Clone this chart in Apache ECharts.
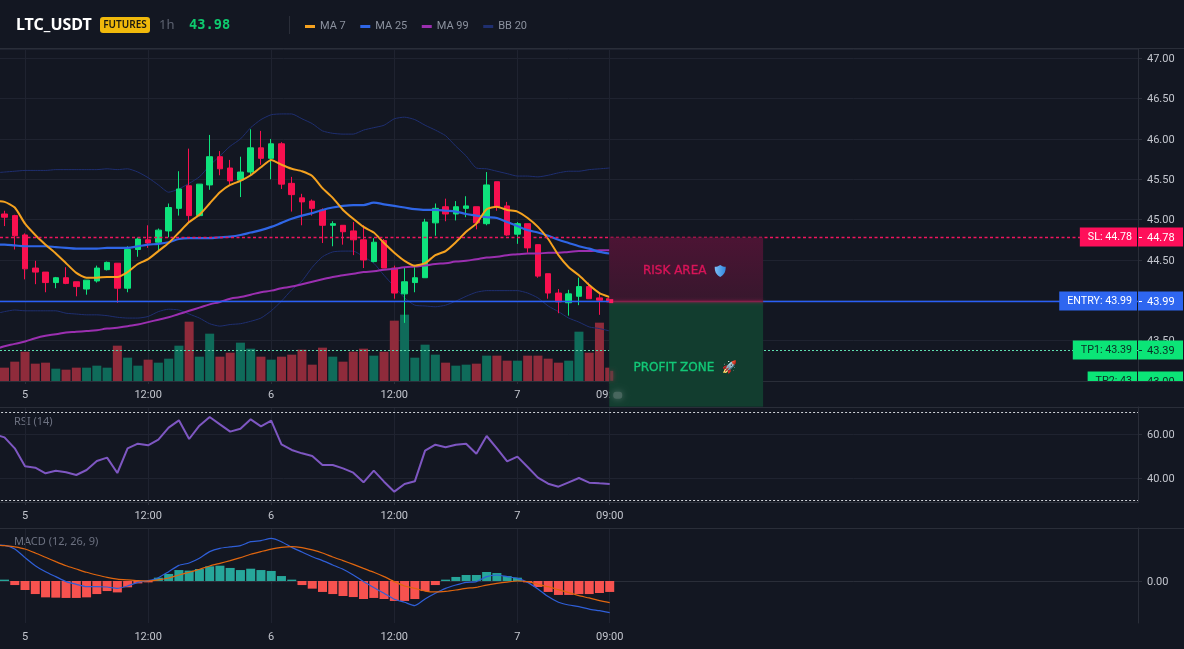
<!DOCTYPE html>
<html>
<head>
<meta charset="utf-8">
<style>
html,body{margin:0;padding:0;background:#131722;}
#chart{width:1184px;height:649px;}
</style>
<script src="https://cdn.jsdelivr.net/npm/echarts@6/dist/echarts.min.js"></script>
</head>
<body>
<div id="chart"></div>
<script>
// Hourly LTC/USDT candles, oldest first.
const opens = [45.12,45.07,45.05,44.81,44.40,44.35,44.22,44.28,44.23,44.14,44.24,44.38,44.46,44.15,44.63,44.75,44.72,44.86,45.14,45.42,45.05,45.43,45.78,45.64,45.49,45.59,45.89,45.76,45.94,45.45,45.27,45.23,45.12,44.93,44.93,44.86,44.75,44.48,44.74,44.40,44.08,44.22,44.28,44.96,45.16,45.07,45.14,45.16,44.95,45.47,45.17,44.82,44.95,44.69,44.33,44.09,43.97,44.05,44.17,44.03,44.02];
const closes = [45.08,45.03,44.80,44.39,44.35,44.22,44.28,44.21,44.17,44.25,44.40,44.47,44.15,44.63,44.76,44.71,44.87,45.15,45.38,45.05,45.44,45.78,45.63,45.48,45.59,45.89,45.76,45.94,45.44,45.31,45.22,45.14,44.93,44.95,44.85,44.75,44.50,44.72,44.40,44.09,44.23,44.28,44.97,45.14,45.07,45.16,45.17,44.96,45.43,45.16,44.81,44.95,44.65,44.30,44.09,43.98,44.08,44.17,44.02,44.00,43.98];
const lows = [45.02,44.92,44.63,44.26,44.20,44.10,44.15,44.20,44.05,44.07,44.22,44.37,43.97,44.10,44.54,44.65,44.62,44.78,45.05,44.97,45.04,45.37,45.55,45.44,45.28,45.55,45.68,45.50,45.38,45.10,44.93,45.05,44.71,44.67,44.69,44.56,44.40,44.47,44.40,44.02,43.72,44.10,44.28,44.80,44.98,44.99,45.03,44.88,44.93,45.11,44.80,44.70,44.59,44.28,44.02,43.84,43.81,43.94,44.02,43.82,43.97];
const highs = [45.15,45.11,45.06,44.83,44.49,44.35,44.29,44.41,44.23,44.25,44.43,44.48,44.46,44.67,44.78,44.93,44.89,45.20,45.60,45.88,45.44,46.05,45.85,45.74,45.78,46.12,46.10,46.00,45.96,45.53,45.32,45.25,45.14,44.98,44.93,44.97,44.93,44.77,44.76,44.43,44.41,44.44,45.01,45.20,45.26,45.23,45.29,45.16,45.59,45.47,45.22,44.97,44.95,44.69,44.33,44.14,44.13,44.28,44.22,44.08,44.05];
const volumes = [40,40,58,88,52,55,37,34,40,40,46,40,106,70,46,64,55,67,106,178,73,142,73,85,115,97,73,64,73,79,94,49,100,73,58,88,97,76,88,181,199,70,109,79,55,46,49,52,76,76,61,61,76,76,67,55,61,148,85,175,40];

// Moving averages and Bollinger bands over the same bars.
const ma7 = [45.23,45.22,45.15,44.95,44.81,44.69,44.58,44.46,44.34,44.28,44.28,44.29,44.29,44.35,44.45,44.51,44.61,44.71,44.84,44.97,45.06,45.20,45.34,45.43,45.48,45.55,45.65,45.74,45.68,45.63,45.60,45.54,45.39,45.27,45.12,45.01,44.91,44.84,44.71,44.59,44.49,44.43,44.46,44.56,44.61,44.72,44.85,44.95,45.13,45.16,45.12,45.10,45.02,44.91,44.76,44.56,44.41,44.31,44.19,44.09,44.04];
const ma25 = [44.69,44.69,44.68,44.67,44.67,44.67,44.66,44.65,44.64,44.64,44.64,44.65,44.65,44.65,44.67,44.69,44.70,44.72,44.76,44.77,44.77,44.77,44.78,44.79,44.81,44.84,44.87,44.91,44.96,45.01,45.05,45.08,45.12,45.15,45.17,45.18,45.18,45.21,45.19,45.17,45.15,45.13,45.12,45.12,45.11,45.10,45.07,45.05,45.03,45.02,44.97,44.92,44.87,44.84,44.80,44.75,44.71,44.67,44.64,44.60,44.58];
const ma99 = [43.39,43.43,43.46,43.49,43.53,43.56,43.58,43.60,43.61,43.62,43.63,43.65,43.66,43.68,43.70,43.73,43.76,43.79,43.83,43.87,43.91,43.95,43.98,44.02,44.04,44.07,44.10,44.12,44.15,44.17,44.20,44.23,44.26,44.29,44.31,44.33,44.35,44.36,44.38,44.39,44.41,44.42,44.43,44.45,44.46,44.48,44.49,44.51,44.53,44.54,44.56,44.57,44.58,44.58,44.59,44.59,44.60,44.61,44.61,44.62,44.62];
const bbUpper = [45.58,45.59,45.60,45.61,45.61,45.61,45.62,45.62,45.62,45.62,45.62,45.63,45.62,45.63,45.59,45.52,45.43,45.34,45.38,45.45,45.53,45.67,45.79,45.91,46.00,46.14,46.24,46.30,46.31,46.31,46.25,46.19,46.10,46.07,46.06,46.06,46.11,46.14,46.17,46.25,46.27,46.24,46.17,46.11,46.04,45.91,45.79,45.64,45.63,45.60,45.57,45.54,45.54,45.53,45.55,45.58,45.60,45.60,45.62,45.63,45.64];
const bbLower = [43.83,43.86,43.88,43.87,43.87,43.87,43.87,43.84,43.83,43.82,43.82,43.81,43.79,43.78,43.78,43.80,43.86,43.89,43.88,43.83,43.78,43.71,43.68,43.70,43.71,43.74,43.78,43.87,43.99,44.13,44.24,44.41,44.54,44.60,44.61,44.61,44.54,44.46,44.31,44.17,44.03,43.94,43.93,43.92,43.94,43.99,44.05,44.10,44.12,44.12,44.12,44.12,44.09,44.03,43.93,43.86,43.78,43.73,43.67,43.65,43.62];

// Oscillator panes.
const rsi = [59.85,58.48,53.48,45.30,44.70,42.12,43.33,42.57,41.36,43.63,47.73,49.24,42.27,53.48,55.60,54.85,57.42,62.88,66.21,57.73,63.79,67.73,64.39,61.06,62.42,66.66,63.48,66.06,55.30,52.73,51.21,50.00,45.91,45.91,44.39,42.42,38.03,43.33,38.33,33.79,37.27,38.48,52.42,55.15,53.94,55.15,55.60,51.06,59.09,53.48,47.57,49.70,45.00,40.15,37.42,36.06,38.03,40.00,37.88,37.57,37.27];
const macdLine = [0.240,0.238,0.213,0.156,0.102,0.062,0.029,-0.004,-0.022,-0.038,-0.038,-0.040,-0.049,-0.033,-0.009,0.002,0.022,0.062,0.104,0.120,0.151,0.196,0.218,0.227,0.236,0.262,0.269,0.284,0.262,0.224,0.193,0.162,0.136,0.107,0.078,0.040,-0.004,-0.044,-0.082,-0.122,-0.142,-0.164,-0.120,-0.082,-0.049,-0.027,-0.009,-0.004,0.029,0.040,0.029,0.018,-0.009,-0.053,-0.104,-0.142,-0.160,-0.171,-0.187,-0.198,-0.211];
const macdSignal = [0.240,0.236,0.227,0.213,0.187,0.158,0.129,0.102,0.080,0.058,0.040,0.024,0.013,0.007,0.002,0,0.007,0.020,0.040,0.058,0.078,0.100,0.118,0.136,0.156,0.178,0.196,0.213,0.224,0.229,0.222,0.207,0.187,0.160,0.136,0.111,0.084,0.058,0.029,-0.004,-0.033,-0.049,-0.067,-0.073,-0.069,-0.060,-0.049,-0.042,-0.027,-0.016,-0.007,0,-0.004,-0.022,-0.038,-0.058,-0.078,-0.098,-0.113,-0.131,-0.144];
const macdHist = [0.007,0.009,-0.027,-0.060,-0.087,-0.109,-0.111,-0.113,-0.113,-0.109,-0.087,-0.067,-0.076,-0.042,-0.016,-0.009,0.022,0.047,0.073,0.069,0.080,0.098,0.102,0.087,0.073,0.082,0.073,0.067,0.033,0.009,-0.027,-0.051,-0.073,-0.087,-0.100,-0.107,-0.120,-0.113,-0.120,-0.133,-0.133,-0.120,-0.067,-0.027,0.009,0.027,0.040,0.040,0.060,0.053,0.033,0.022,-0.009,-0.040,-0.073,-0.093,-0.093,-0.087,-0.087,-0.080,-0.073];

// Time axis: bars keep running past the last candle into empty slots.
const slotCount = 112;
const tickSlots = [3, 15, 27, 39, 51, 60];
const tickNames = ['5', '12:00', '6', '12:00', '7', '09:00'];

// Trade levels on the price axis.
const levelPrices = [44.78, 43.99, 43.39, 43.00];
const levelTitles = ['SL: 44.78', 'ENTRY: 43.99', 'TP1: 43.39', 'TP2: 43'];
const levelValues = ['44.78', '43.99', '43.39', '43.00'];

// Risk and reward zones projected to the right of the last candle.
const zoneNames = ['RISK AREA', 'PROFIT ZONE  🚀'];
const zoneTops = [44.78, 43.99];
const zoneBottoms = [43.99, 42.68];
const zoneLabelPrices = [44.37, 43.165];
const zoneFirstSlot = 60;
const zoneLastSlot = 75;

const BG = '#131722', GRID = '#1f2330', AXIS = '#2a2e39', TICKTEXT = '#c3c6ce';
const UP = '#0ee37c', DOWN = '#f8104f';
const FONT = 'Roboto, sans-serif';
const levelColors = ['#ff0f5a', '#2e66f0', '#0be577', '#0be577'];
const levelLines = ['#f0145e', '#2a5ff5', '#5fe0b0', '#5fe0b0'];
const levelInk = ['#ffffff', '#ffffff', '#0c2c24', '#0c2c24'];
const levelDash = [3, 0, 2, 2];
const zoneInk = ['#d81458', '#12c877'];

const categories = [];
for (let i = 0; i < slotCount; i++) {
  const h = 21 + i;
  categories.push('Day ' + (4 + Math.floor(h / 24)) + ' ' + String(h % 24).padStart(2, '0') + ':00');
}
const isTick = idx => tickSlots.indexOf(+idx) >= 0;
const tickName = (v, idx) => tickNames[tickSlots.indexOf(idx)] || '';

const candles = opens.map((o, i) => [o, closes[i], lows[i], highs[i]]);
const volumeBars = volumes.map((v, i) => ({
  value: v,
  itemStyle: { color: closes[i] >= opens[i] ? '#0f6b5a' : '#8f2b3b' }
}));
const histBars = macdHist.map(v => ({
  value: v,
  itemStyle: { color: v >= 0 ? '#26a69a' : '#f7524f' }
}));

function xAxisFor(gridIndex) {
  return {
    type: 'category', gridIndex, data: categories, boundaryGap: true,
    axisLine: { show: true, lineStyle: { color: AXIS, width: 1 } },
    axisTick: { show: true, alignWithLabel: true, length: 3, interval: isTick, lineStyle: { color: AXIS } },
    axisLabel: { show: true, interval: isTick, formatter: tickName, color: TICKTEXT, fontSize: 11, fontFamily: FONT, margin: 9, hideOverlap: false },
    splitLine: { show: true, alignWithLabel: true, interval: isTick, lineStyle: { color: GRID, width: 1 } }
  };
}

function priceAxisLabel() {
  return {
    show: true, margin: 9,
    formatter: v => '{v|' + v.toFixed(2) + '}',
    rich: { v: { color: TICKTEXT, fontSize: 11, fontFamily: FONT, padding: [2, 0, 0, 0] } }
  };
}

function renderLevel(params, api) {
  const i = params.dataIndex;
  const g = params.coordSys;
  const yc = Math.round(api.coord([0, api.value(0)])[1]);
  const right = g.x + g.width;
  const color = levelColors[i];
  const dash = levelDash[i];
  const clip = { type: 'rect', shape: { x: 0, y: g.y, width: 1184, height: g.height } };
  const line = dash
    ? { type: 'line', shape: { x1: 0, y1: yc + 0.5, x2: right, y2: yc + 0.5 }, style: { stroke: levelLines[i], lineWidth: i === 0 ? 1.4 : 1, lineDash: [dash, i === 0 ? 2.5 : 2] } }
    : { type: 'rect', shape: { x: 0, y: yc - 0.25, width: right, height: 1.5 }, style: { fill: levelLines[i] } };
  return {
    type: 'group',
    clipPath: clip,
    children: [
      line,
      { type: 'text', style: {
          x: right - 1, y: yc, text: levelTitles[i], align: 'right', verticalAlign: 'middle',
          fill: levelInk[i], font: '10.7px ' + FONT, lineHeight: 15, backgroundColor: color, padding: [3, 5, 1, 8]
      } },
      { type: 'rect', shape: { x: right, y: yc - 9.5, width: 45, height: 19 }, style: { fill: color } },
      { type: 'rect', shape: { x: right + 1, y: yc, width: 3, height: 1 }, style: { fill: levelInk[i] } },
      { type: 'text', style: { x: right + 9, y: yc + 1, text: levelValues[i], align: 'left', verticalAlign: 'middle', fill: levelInk[i], font: '11px ' + FONT } }
    ]
  };
}

// Small shield badge next to the risk label.
const SHIELD = 'M6 0C4 1.4 2 2 0 2C0 7 1.2 10.5 6 13C10.8 10.5 12 7 12 2C10 2 8 1.4 6 0Z';

function renderZone(params, api) {
  const i = params.dataIndex;
  const a = api.coord([zoneFirstSlot, api.value(0)]);
  const b = api.coord([zoneLastSlot, api.value(1)]);
  const x0 = a[0] - 0.5, w = b[0] - a[0], h = b[1] - a[1];
  const ly = api.coord([0, api.value(2)])[1];
  const fill = i === 0
    ? new echarts.graphic.LinearGradient(0, 0, 0, 1, [{ offset: 0, color: '#4c1434' }, { offset: 1, color: '#37172d' }])
    : '#123d2f';
  const children = [
    { type: 'rect', shape: { x: x0, y: a[1], width: w, height: h }, style: { fill } },
    { type: 'text', style: { x: i === 0 ? x0 + 65.5 : x0 + 76, y: ly, text: zoneNames[i], align: 'center', verticalAlign: 'middle', fill: zoneInk[i], stroke: zoneInk[i], lineWidth: 0.35, font: '12px "DejaVu Sans", sans-serif' } }
  ];
  if (i === 0) {
    children.push({
      type: 'path', shape: { pathData: SHIELD, x: x0 + 105.5, y: ly - 6, width: 11, height: 13 },
      style: { fill: new echarts.graphic.LinearGradient(0, 0, 1, 0, [{ offset: 0, color: '#7dbdf5' }, { offset: 1, color: '#2f86de' }]) }
    });
  }
  if (i === 1) {
    // Whatever sits under the translucent panel shows through softened.
    children.push(
      { type: 'rect', shape: { x: x0 + 4, y: b[1] - 15, width: 9, height: 7, r: 3 }, style: { fill: '#4f6b64', shadowBlur: 7, shadowColor: '#5f7a74', opacity: 0.8 } },
      { type: 'rect', shape: { x: x0 + 1, y: b[1] - 36, width: 3, height: 10 }, style: { fill: '#7a3a42', shadowBlur: 4, shadowColor: '#7a3a42', opacity: 0.8 } },
      { type: 'rect', shape: { x: x0, y: a[1] - 0.5, width: w, height: 1.5 }, style: { fill: '#a01a4a', shadowBlur: 3, shadowColor: '#c0205a', opacity: 0.7 } },
      { type: 'rect', shape: { x: x0, y: a[1] - 2, width: 4, height: 4 }, style: { fill: '#ff1a60' } }
    );
  }
  return { type: 'group', children };
}

const headerGraphics = [
  { type: 'text', x: 16, y: 25, style: { text: 'LTC_USDT', fill: '#ffffff', font: '700 16px "Noto Sans", sans-serif', verticalAlign: 'middle' } },
  { type: 'rect', shape: { x: 100, y: 17, width: 50, height: 16, r: 3 }, style: { fill: '#f0b90b' } },
  { type: 'text', x: 125, y: 25, style: { text: 'FUTURES', fill: '#1a1a10', font: '600 10px "Noto Sans", sans-serif', align: 'center', verticalAlign: 'middle' } },
  { type: 'text', x: 159, y: 25, style: { text: '1h', fill: '#5c6270', font: '13px "Noto Sans", sans-serif', verticalAlign: 'middle' } },
  { type: 'text', x: 189, y: 25, style: { text: '43.98', fill: '#0ecb6f', font: '700 13.7px "DejaVu Sans Mono", monospace', verticalAlign: 'middle' } },
  { type: 'line', shape: { x1: 289.5, y1: 16, x2: 289.5, y2: 34 }, style: { stroke: AXIS } },
  { type: 'text', x: 14, y: 422, style: { text: 'RSI (14)', fill: '#6c7180', font: '11px "Noto Sans", sans-serif', verticalAlign: 'middle' } },
  { type: 'text', x: 14, y: 542, style: { text: 'MACD (12, 26, 9)', fill: '#6c7180', font: '11px "Noto Sans", sans-serif', verticalAlign: 'middle' } }
].concat([48.5, 381.5, 407.5, 528.5].map(y => ({
  type: 'line', shape: { x1: 0, y1: y, x2: 1184, y2: y }, style: { stroke: AXIS, lineWidth: 1 }, z: 1
})));

function overlayLine(name, data, color, width, xi, yi, z, smooth) {
  return {
    name, type: 'line', data, xAxisIndex: xi, yAxisIndex: yi, z,
    showSymbol: false, symbol: 'none', smooth: smooth || 0.2,
    color, itemStyle: { color },
    lineStyle: { color, width }
  };
}

const chart = echarts.init(document.getElementById('chart'), null, { renderer: 'canvas' });
chart.setOption({
  animation: false,
  backgroundColor: BG,
  tooltip: { show: false },
  graphic: headerGraphics,
  legend: {
    left: 305, top: 21, padding: 0, icon: 'rect', itemWidth: 10, itemHeight: 3, itemGap: 14.5,
    textStyle: { color: '#8b919e', fontSize: 11, fontFamily: FONT },
    selectedMode: false,
    data: ['MA 7', 'MA 25', 'MA 99', 'BB 20']
  },
  grid: [
    { left: -10.88, width: 1148.88, top: 49, height: 332, outerBoundsMode: 'none' },
    { left: -10.88, width: 1148.88, top: 407, height: 95, outerBoundsMode: 'none' },
    { left: -10.88, width: 1148.88, top: 528, height: 95, outerBoundsMode: 'none' }
  ],
  xAxis: [xAxisFor(0), xAxisFor(1), xAxisFor(2)],
  yAxis: [
    {
      type: 'value', gridIndex: 0, position: 'right', min: 43, max: 47.115, interval: 0.5, scale: true,
      axisLine: { show: true, lineStyle: { color: AXIS } },
      axisTick: { show: true, length: 4, lineStyle: { color: AXIS } },
      axisLabel: Object.assign(priceAxisLabel(), { showMinLabel: false, showMaxLabel: false }),
      splitLine: { show: true, lineStyle: { color: GRID } }
    },
    { type: 'value', gridIndex: 0, min: 0, max: 996, show: false, splitLine: { show: false } },
    {
      type: 'value', gridIndex: 1, position: 'right', min: 29.09, max: 72.27,
      axisLine: { show: true, lineStyle: { color: AXIS } },
      axisTick: { show: true, length: 4, customValues: [40, 60], lineStyle: { color: AXIS } },
      axisLabel: Object.assign(priceAxisLabel(), { customValues: [40, 60] }),
      splitLine: { show: true, lineStyle: { color: GRID } }
    },
    {
      type: 'value', gridIndex: 2, position: 'right', min: -0.28, max: 0.3533,
      axisLine: { show: true, lineStyle: { color: AXIS } },
      axisTick: { show: true, length: 4, customValues: [0], lineStyle: { color: AXIS } },
      axisLabel: Object.assign(priceAxisLabel(), { customValues: [0] }),
      splitLine: { show: true, lineStyle: { color: GRID } }
    }
  ],
  series: [
    { name: 'Volume', type: 'bar', data: volumeBars, xAxisIndex: 0, yAxisIndex: 1, barWidth: 9, z: 2 },
    overlayLine('BB 20', bbUpper, '#1f2f70', 1, 0, 0, 3),
    overlayLine('BB 20', bbLower, '#1f2f70', 1, 0, 0, 3),
    {
      name: 'LTC_USDT', type: 'candlestick', data: candles, xAxisIndex: 0, yAxisIndex: 0, barWidth: 6, z: 4,
      itemStyle: { color: UP, color0: DOWN, borderColor: UP, borderColor0: DOWN, borderWidth: 1 }
    },
    overlayLine('MA 99', ma99, '#9b2fb0', 2, 0, 0, 5, 0.5),
    overlayLine('MA 25', ma25, '#2f66e6', 2.2, 0, 0, 5, 0.3),
    overlayLine('MA 7', ma7, '#f5a21f', 2, 0, 0, 5),
    {
      name: 'Levels', type: 'custom', xAxisIndex: 0, yAxisIndex: 0, z: 6,
      data: levelPrices.map(p => [p]), renderItem: renderLevel, encode: { y: 0 }
    },
    {
      name: 'Zones', type: 'custom', xAxisIndex: 0, yAxisIndex: 0, z: 7,
      data: zoneTops.map((t, i) => [t, zoneBottoms[i], zoneLabelPrices[i]]), renderItem: renderZone, encode: { y: [0, 1] }
    },
    {
      name: 'RSI', type: 'line', data: rsi, xAxisIndex: 1, yAxisIndex: 2, z: 3, showSymbol: false, symbol: 'none',
      lineStyle: { color: '#7e57c2', width: 2 },
      markLine: {
        silent: true, symbol: 'none', label: { show: false },
        lineStyle: { color: '#cfd2d8', type: [2, 2], width: 1 },
        data: [{ yAxis: 70 }, { yAxis: 30 }]
      }
    },
    { name: 'Histogram', type: 'bar', data: histBars, xAxisIndex: 2, yAxisIndex: 3, barWidth: 9, z: 2 },
    { name: 'MACD', type: 'line', data: macdLine, xAxisIndex: 2, yAxisIndex: 3, z: 3, showSymbol: false, symbol: 'none', smooth: 0.2, lineStyle: { color: '#2f5fd8', width: 1.2 } },
    { name: 'Signal', type: 'line', data: macdSignal, xAxisIndex: 2, yAxisIndex: 3, z: 3, showSymbol: false, symbol: 'none', smooth: 0.2, lineStyle: { color: '#e0660f', width: 1.2 } }
  ]
});
</script>
</body>
</html>
